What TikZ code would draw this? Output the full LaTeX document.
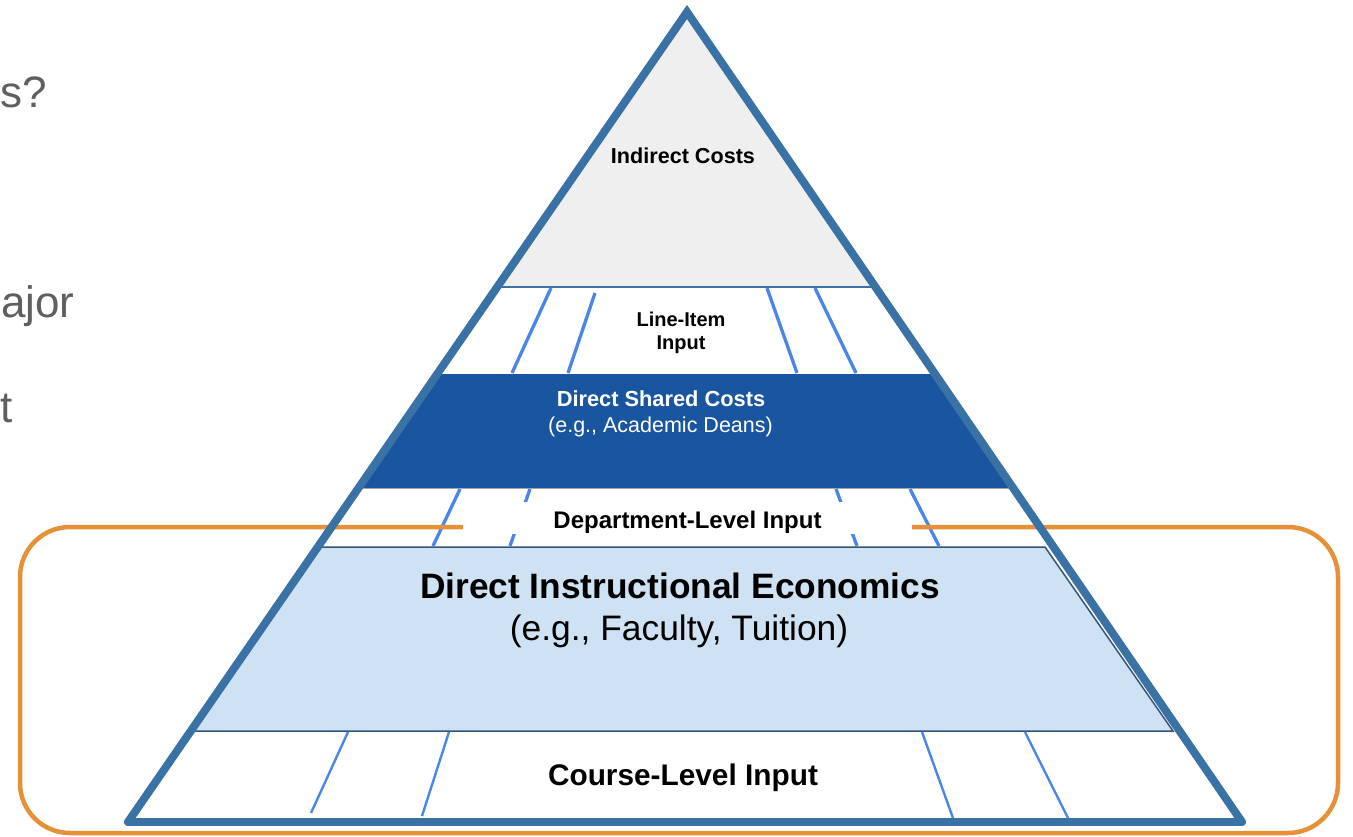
\documentclass[tikz,border=0pt]{standalone}
\usepackage{fontspec}
\setmainfont{Liberation Sans}
\definecolor{outl}{HTML}{3B72A6}
\definecolor{darkband}{HTML}{1A56A0}
\definecolor{lightband}{HTML}{CFE2F3}
\definecolor{grayband}{HTML}{EFEFEF}
\definecolor{slat}{HTML}{4A86E8}
\definecolor{orng}{HTML}{E69138}
\definecolor{edgeblue}{HTML}{34557A}
\definecolor{sidetext}{HTML}{5F5F5F}
\tikzset{
  slatline/.style={draw=slat, line width=3.3pt},
  thinslat/.style={draw=slat, line width=2.4pt},
  lbl/.style={inner sep=0pt, anchor=base, text=black},
  sidetxt/.style={inner sep=0pt, anchor=base west, text=sidetext, font=\fontsize{44}{50}\selectfont},
  outline/.style={draw=outl, line width=8pt, line cap=round}
}
\begin{document}
\begin{tikzpicture}[x=1pt,y=-1pt]
\useasboundingbox (0,0) rectangle (1353,836);
\clip (0,0) rectangle (1353,836);
\coordinate (apex) at (687,12);
\coordinate (bl) at (128,822);
\coordinate (br) at (1242,822);

% bands inside triangle
\begin{scope}
  \clip (bl) -- (apex) -- (br) -- cycle;
  \fill[grayband] (0,0) rectangle (1353,287);
  \fill[darkband] (0,374) rectangle (1353,488);
  \draw[gray!70, line width=0.8pt] (0,488) -- (1353,488);
\end{scope}
\draw[outl, line width=1.2pt] (497,287) -- (876,287);

% light blue trapezoid
\fill[lightband] (316,547) -- (1045,547) -- (1173,731) -- (190,731) -- cycle;
\draw[edgeblue, line width=1.5pt] (316,547) -- (1045,547) -- (1173,731) -- (190,731);

% slats
\draw[slatline] (551,288) -- (512,373);
\draw[slatline] (595,293) -- (568,373);
\draw[slatline] (767,288) -- (797,373);
\draw[slatline] (815,288) -- (856,373);

\draw[slatline] (460,489) -- (433,546);
\draw[slatline] (530,489) -- (510,546);
\draw[slatline] (836,489) -- (857,546);
\draw[slatline] (910,489) -- (939,546);

\draw[thinslat] (348,732) -- (311,813);
\draw[thinslat] (449,732) -- (422,816);
\draw[thinslat] (922,732) -- (953,818);
\draw[thinslat] (1025,732) -- (1068,818);

% orange frame
\draw[orng, line width=4.5pt, rounded corners=50pt] (20,527) rectangle (1338,833);

% white box behind department label
\node[fill=white, inner sep=0pt, minimum width=449pt, minimum height=32pt] (deptbox) at (687.5,518) {};

% labels
\node[lbl, font=\fontsize{21.6}{26}\selectfont\bfseries] (indirect) at (683,163) {Indirect Costs};
\node[lbl, font=\fontsize{20}{23}\selectfont\bfseries] (lineitem) at (681,326) {Line-Item};
\node[lbl, font=\fontsize{20}{23}\selectfont\bfseries] (lineitem2) at (681,349) {Input};
\node[lbl, text=white, font=\fontsize{21.8}{26}\selectfont\bfseries] (shared) at (661,406) {Direct Shared Costs};
\node[lbl, text=white, font=\fontsize{21.5}{26}\selectfont] (shared2) at (660.5,432) {(e.g., Academic Deans)};
\node[lbl, font=\fontsize{24}{28}\selectfont\bfseries] (dept) at (687.5,528) {Department-Level Input};
\node[lbl, font=\fontsize{35.3}{40}\selectfont\bfseries] (die) at (680,598) {Direct Instructional Economics};
\node[lbl, font=\fontsize{35.4}{40}\selectfont] (die2) at (679,640) {(e.g., Faculty, Tuition)};
\node[lbl, font=\fontsize{29.8}{34}\selectfont\bfseries] (course) at (683,785) {Course-Level Input};

% side texts (fragments visible at the left edge)
\node[sidetxt] (side1) at (0,107) {s?};
\node[sidetxt] (side2) at (1,317) {ajor};
\node[sidetxt] (side3) at (0,422) {t};

% pyramid outline
\draw[outline, line join=miter] (bl) -- (apex) -- (br);
\draw[outline] (bl) -- (br);
\end{tikzpicture}
\end{document}
